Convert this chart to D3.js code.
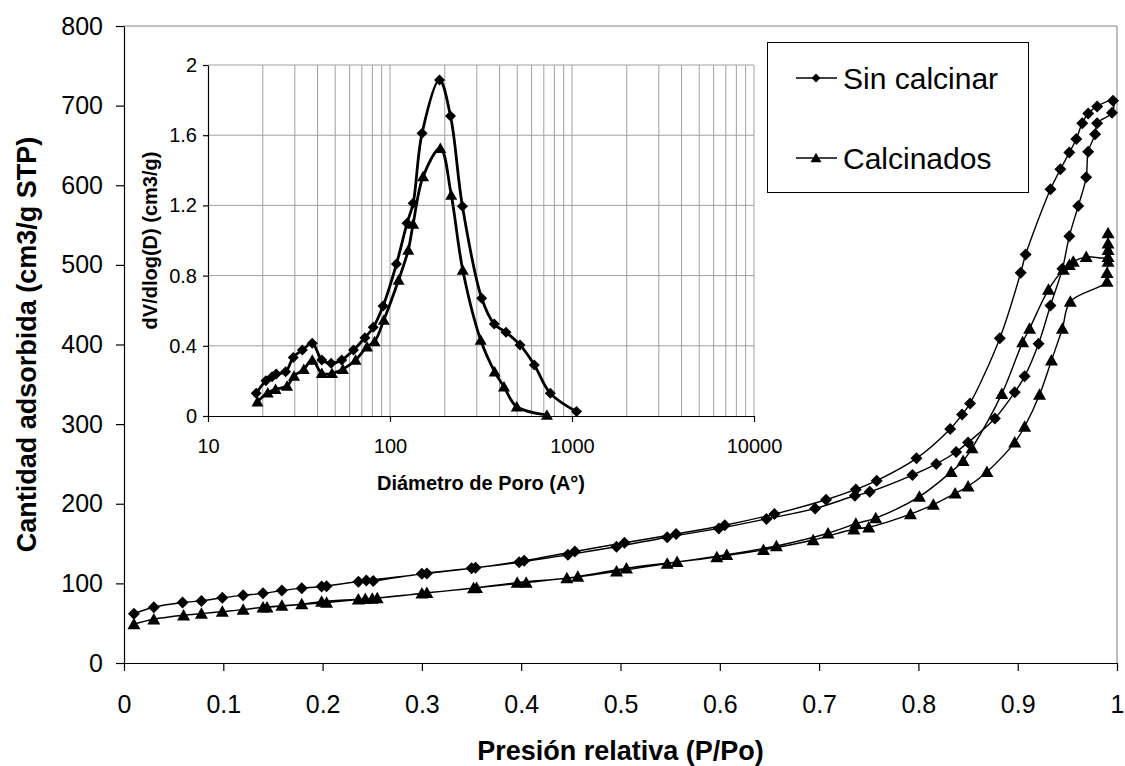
<!DOCTYPE html>
<html><head><meta charset="utf-8">
<script src="https://cdn.jsdelivr.net/npm/d3@7"></script>
<style>
body{margin:0;background:#fff}
text{font-family:"Liberation Sans",Arial,sans-serif;fill:#000}
</style></head><body>
<svg id="c" width="1125" height="766"></svg>
<script>
// ---- Main isotherm data (P/Po, cm3/g STP) ----
const sinAdsP = [0.01,0.03,0.059,0.078,0.099,0.12,0.14,0.159,0.179,0.199,0.236,0.251,0.30,0.35,0.398,0.447,0.496,0.547,0.599,0.647,0.696,0.736,0.751,0.794,0.818,0.838,0.850,0.877,0.897,0.907,0.921,0.933,0.945,0.952,0.961,0.969,0.971,0.978,0.980,0.995,0.996];
const sinAdsV = [62,70,76,78,82,85,87.5,91,94,96,102,103,112,119,126.5,136,146,158,169,181,194,210,215,236,250,265,277,307,340,360,401,449,495,536,574,610,642,664,678,691,706];
const sinDesP = [0.980,0.971,0.965,0.959,0.952,0.943,0.933,0.908,0.903,0.882,0.852,0.844,0.832,0.798,0.758,0.737,0.707,0.655,0.605,0.556,0.504,0.454,0.403,0.354,0.305,0.244,0.204];
const sinDesV = [699,690,678,658,641,620,595,513,490,408,326,312,294,257,229,218,205,187,173,162,151,140,128.5,119.5,112.5,103.5,96.5];
const calAdsP = [0.01,0.03,0.06,0.078,0.099,0.12,0.14,0.159,0.179,0.199,0.236,0.250,0.30,0.352,0.396,0.446,0.496,0.547,0.597,0.644,0.694,0.735,0.75,0.792,0.815,0.837,0.850,0.869,0.897,0.907,0.922,0.934,0.945,0.953,0.990,0.990,0.991,0.991,0.991];
const calAdsV = [49,55,60,62,64.5,67,70,72,74,77,80,81,87.5,94,101,106.5,115,125,133,142,154.5,168,170.5,187,199,213,222,240,277,297,337,380,420,454,479,490,504,519,540];
const calDesP = [0.991,0.991,0.969,0.956,0.952,0.946,0.931,0.912,0.905,0.884,0.854,0.845,0.833,0.801,0.757,0.737,0.709,0.657,0.607,0.557,0.506,0.457,0.405,0.355,0.305,0.255,0.243,0.204,0.144];
const calDesV = [527,510,510,504,500,494,469,420,403,338,270,254,240,209,182,175,163,147,136,127,119,108.5,101,94.5,88,81.5,80.5,76,70];

// ---- Inset pore size distribution (D in A, dV/dlog(D)) ----
const sinD = [18.4,20.8,22.5,23.7,26.7,29.4,33.0,37.4,42.2,47.5,54.3,63,72.8,80.9,91.6,108.5,124,134,150,187,215,250,319,374,434,518,621,760,1059];
const sinDV = [0.129,0.201,0.224,0.239,0.252,0.334,0.376,0.414,0.319,0.300,0.319,0.376,0.446,0.505,0.627,0.866,1.098,1.212,1.611,1.915,1.709,1.195,0.671,0.524,0.477,0.405,0.291,0.129,0.025];
const calD = [18.7,21.3,23.5,27.2,29.7,33.6,37.4,42.2,48,55.1,64.7,74.8,82.3,92.5,111.5,126,134,152,189,217,251,315,376,423,497,728];
const calDV = [0.081,0.133,0.152,0.171,0.228,0.266,0.319,0.243,0.243,0.266,0.319,0.395,0.424,0.547,0.775,0.946,1.094,1.364,1.525,1.259,0.832,0.433,0.252,0.167,0.053,0.006];

// ---- Ticks & labels ----
const xTicks = [0,0.1,0.2,0.3,0.4,0.5,0.6,0.7,0.8,0.9,1];
const xTickLabels = ["0","0.1","0.2","0.3","0.4","0.5","0.6","0.7","0.8","0.9","1"];
const yTicks = [0,100,200,300,400,500,600,700,800];
const yTickLabels = ["0","100","200","300","400","500","600","700","800"];
const ixTicks = [10,100,1000,10000];
const ixTickLabels = ["10","100","1000","10000"];
const iyTicks = [0,0.4,0.8,1.2,1.6,2];
const iyTickLabels = ["0","0.4","0.8","1.2","1.6","2"];
const seriesNames = ["Sin calcinar","Calcinados"];

const zip = (a,b)=>a.map((v,i)=>[v,b[i]]);
const sinMain = zip(sinAdsP,sinAdsV).concat(zip(sinDesP,sinDesV));
const calMain = zip(calAdsP,calAdsV).concat(zip(calDesP,calDesV));
const sinIn = zip(sinD,sinDV), calIn = zip(calD,calDV);

const svg = d3.select('#c');
svg.append('rect').attr('width',1125).attr('height',766).attr('fill','#fff');

const diamond = r => `M0,${-r}L${r},0L0,${r}L${-r},0Z`;
const tri = (w,h) => `M0,${-h*0.55}L${w},${h*0.45}L${-w},${h*0.45}Z`;

// ---- Main chart ----
const x = d3.scaleLinear().domain([0,1]).range([124,1117]);
const y = d3.scaleLinear().domain([0,800]).range([663,26]);

svg.append('line').attr('x1',x(0)).attr('x2',x(1)).attr('y1',y(800)).attr('y2',y(800)).attr('stroke','#808080').attr('stroke-width',1);
svg.append('line').attr('x1',x(1)).attr('x2',x(1)).attr('y1',y(800)).attr('y2',y(0)).attr('stroke','#808080').attr('stroke-width',1);

const gx = svg.append('g').attr('transform',`translate(0,${y(0)})`)
  .call(d3.axisBottom(x).tickValues(xTicks).tickFormat((d,i)=>xTickLabels[i]).tickSize(8).tickSizeOuter(0).tickPadding(24));
const gy = svg.append('g').attr('transform',`translate(${x(0)},0)`)
  .call(d3.axisLeft(y).tickValues(yTicks).tickFormat((d,i)=>yTickLabels[i]).tickSize(8).tickSizeOuter(0).tickPadding(13));
[gx,gy].forEach(g=>{
  g.select('.domain').attr('stroke','#000').attr('stroke-width',1.2);
  g.selectAll('.tick line').attr('stroke','#000').attr('stroke-width',1.2);
  g.selectAll('.tick text').attr('font-size',25).attr('font-family','"Liberation Sans",Arial,sans-serif').attr('fill','#000');
});

svg.append('text').attr('x',(x(0)+x(1))/2).attr('y',760).attr('text-anchor','middle')
  .attr('font-size',27).attr('font-weight','bold').text('Presión relativa (P/Po)');
svg.append('text').attr('transform',`translate(36,${(y(0)+y(800))/2}) rotate(-90)`).attr('text-anchor','middle')
  .attr('font-size',27).attr('font-weight','bold').text('Cantidad adsorbida (cm3/g STP)');

const lineMain = d3.line().x(d=>x(d[0])).y(d=>y(d[1])).curve(d3.curveCatmullRom.alpha(0.5));
svg.append('path').datum(sinMain).attr('d',lineMain).attr('fill','none').attr('stroke','#000').attr('stroke-width',1.4);
svg.append('path').datum(calMain).attr('d',lineMain).attr('fill','none').attr('stroke','#000').attr('stroke-width',1.4);
svg.append('g').selectAll('path').data(sinMain).join('path')
  .attr('transform',d=>`translate(${x(d[0])},${y(d[1])})`).attr('d',diamond(6)).attr('fill','#000');
svg.append('g').selectAll('path').data(calMain).join('path')
  .attr('transform',d=>`translate(${x(d[0])},${y(d[1])})`).attr('d',tri(6.5,11.5)).attr('fill','#000');

// ---- Inset ----
const ix = d3.scaleLog().domain([10,10000]).range([208,754]);
const iy = d3.scaleLinear().domain([0,2]).range([416,65]);
svg.append('rect').attr('x',ix(10)).attr('y',iy(2)).attr('width',ix(10000)-ix(10)).attr('height',iy(0)-iy(2)).attr('fill','#fff');
const minor = [];
[10,100,1000].forEach(b=>{for(let k=2;k<=10;k++) minor.push(b*k);});
svg.append('g').selectAll('line').data(minor).join('line')
  .attr('x1',d=>ix(d)).attr('x2',d=>ix(d)).attr('y1',iy(0)).attr('y2',iy(2)).attr('stroke','#a0a0a0').attr('stroke-width',1);
svg.append('g').selectAll('line').data(iyTicks.slice(1)).join('line')
  .attr('x1',ix(10)).attr('x2',ix(10000)).attr('y1',d=>iy(d)).attr('y2',d=>iy(d)).attr('stroke','#a0a0a0').attr('stroke-width',1);

const igx = svg.append('g').attr('transform',`translate(0,${iy(0)})`)
  .call(d3.axisBottom(ix).tickValues(ixTicks).tickFormat((d,i)=>ixTickLabels[i]).tickSize(6).tickSizeOuter(0).tickPadding(17));
const igy = svg.append('g').attr('transform',`translate(${ix(10)},0)`)
  .call(d3.axisLeft(iy).tickValues(iyTicks).tickFormat((d,i)=>iyTickLabels[i]).tickSize(5).tickSizeOuter(0).tickPadding(6));
[igx,igy].forEach(g=>{
  g.select('.domain').attr('stroke','#000').attr('stroke-width',1.2);
  g.selectAll('.tick line').attr('stroke','#000').attr('stroke-width',1.2);
  g.selectAll('.tick text').attr('font-size',20).attr('font-family','"Liberation Sans",Arial,sans-serif').attr('fill','#000');
});
svg.append('text').attr('x',(ix(10)+ix(10000))/2).attr('y',490).attr('text-anchor','middle')
  .attr('font-size',20).attr('font-weight','bold').text('Diámetro de Poro (A°)');
svg.append('text').attr('transform',`translate(157,${(iy(0)+iy(2))/2}) rotate(-90)`).attr('text-anchor','middle')
  .attr('font-size',20).attr('font-weight','bold').text('dV/dlog(D) (cm3/g)');

const lineIn = d3.line().x(d=>ix(d[0])).y(d=>iy(d[1])).curve(d3.curveCatmullRom.alpha(0.5));
svg.append('path').datum(sinIn).attr('d',lineIn).attr('fill','none').attr('stroke','#000').attr('stroke-width',2.8);
svg.append('path').datum(calIn).attr('d',lineIn).attr('fill','none').attr('stroke','#000').attr('stroke-width',2.8);
svg.append('g').selectAll('path').data(sinIn).join('path')
  .attr('transform',d=>`translate(${ix(d[0])},${iy(d[1])})`).attr('d',diamond(5.5)).attr('fill','#000');
svg.append('g').selectAll('path').data(calIn).join('path')
  .attr('transform',d=>`translate(${ix(d[0])},${iy(d[1])})`).attr('d',tri(6,10.5)).attr('fill','#000');

// ---- Legend ----
const lg = svg.append('g');
lg.append('rect').attr('x',767.5).attr('y',42.5).attr('width',261).attr('height',150).attr('fill','#fff').attr('stroke','#000').attr('stroke-width',1);
const legY = [78,158];
seriesNames.forEach((n,i)=>{
  lg.append('line').attr('x1',796).attr('x2',837).attr('y1',legY[i]).attr('y2',legY[i]).attr('stroke','#000').attr('stroke-width',1.4);
  lg.append('path').attr('transform',`translate(816,${legY[i]})`).attr('d',i===0?diamond(4.5):tri(5.5,9.5)).attr('fill','#000');
  lg.append('text').attr('x',843).attr('y',legY[i]+11).attr('font-size',30).text(n);
});
</script>
</body></html>
